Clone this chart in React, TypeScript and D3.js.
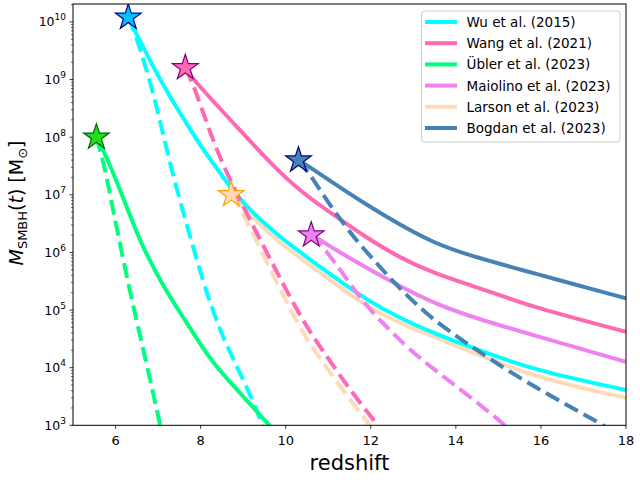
import React from "react";
import * as d3 from "d3";

// curves: [redshift, M_SMBH in solar masses]
const wuSolid = [[6.3, 1.2e10], [6.88, 1.66e9], [7.28, 5e8], [7.68, 1.7e8], [8.06, 6e7], [8.46, 2.4e7], [8.86, 9.2e6], [9.56, 2.8e6], [10.34, 1e6], [11.12, 3.8e5], [11.9, 1.5e5], [12.69, 7.2e4], [13.47, 4e4], [14.41, 2.2e4], [15.81, 9.1e3], [18, 4.1e3]];
const wuDashed = [[6.3, 1.2e10], [6.46, 6.5e9], [6.85, 7.6e8], [7.08, 1.5e8], [7.28, 3.5e7], [7.55, 6.3e6], [8.22, 1.15e5], [8.69, 1.8e4], [9.16, 3.6e3], [9.45, 1e3], [9.5, 8e2]];
const wangSolid = [[7.64, 1.6e9], [7.82, 1e9], [8.86, 1.5e8], [9.63, 3.6e7], [10.34, 1.15e7], [11.12, 4.5e6], [11.9, 1.8e6], [12.69, 8e5], [13.47, 4.4e5], [14.57, 2.4e5], [15.81, 1.12e5], [18, 4.2e4]];
const wangDashed = [[7.64, 1.6e9], [7.82, 8.7e8], [8.22, 1.2e8], [8.62, 2.2e7], [9.56, 9.8e5], [10.34, 7.6e4], [10.81, 2.3e4], [11.51, 4.1e3], [12.17, 1e3], [12.25, 8e2]];
const ublerSolid = [[5.55, 1e8], [5.75, 5.5e7], [6.39, 3.6e6], [6.57, 1.6e6], [7.12, 2.5e5], [7.68, 6e4], [8.22, 1.36e4], [8.86, 4.1e3], [9.62, 1e3], [9.7, 8.5e2]];
const ublerDashed = [[5.55, 1e8], [5.75, 3e7], [5.94, 5.5e6], [6.34, 2e5], [6.74, 1.1e4], [7.05, 1e3], [7.08, 8e2]];
const maiolinoSolid = [[10.6, 2e6], [10.81, 1.66e6], [11.12, 1.17e6], [11.9, 5.4e5], [12.69, 2.6e5], [13.47, 1.32e5], [14.57, 6.8e4], [15.81, 3.7e4], [18, 1.26e4]];
const maiolinoDashed = [[10.6, 2e6], [10.88, 1.26e6], [11.28, 5e5], [11.67, 1.95e5], [12.06, 8.7e4], [12.45, 4.5e4], [12.84, 2.3e4], [13.47, 9.5e3], [14.25, 3.5e3], [15.12, 1.07e3], [15.2, 9e2]];
const larsonSolid = [[8.72, 1e7], [9.56, 2.2e6], [10.34, 8e5], [11.12, 3e5], [11.9, 1.15e5], [12.69, 5.9e4], [13.47, 3.5e4], [14.26, 2e4], [15.81, 6.9e3], [18, 3e3]];
const larsonDashed = [[8.72, 1e7], [8.93, 6.2e6], [9.56, 6.6e5], [10.34, 4.6e4], [10.81, 1.45e4], [11.28, 4.6e3], [11.98, 1e3], [12.05, 8e2]];
const bogdanSolid = [[10.3, 4e7], [10.49, 3.3e7], [11.12, 1.6e7], [11.9, 6.7e6], [12.69, 3e6], [13.47, 1.48e6], [14.26, 9.1e5], [15.81, 4.4e5], [18, 1.6e5]];
const bogdanDashed = [[10.3, 4e7], [10.57, 2.3e7], [10.96, 8.1e6], [11.35, 3.2e6], [11.75, 1.35e6], [12.14, 6.5e5], [12.53, 3.1e5], [12.92, 1.6e5], [13.31, 8.7e4], [13.71, 5.1e4], [14.1, 3.2e4], [14.49, 2e4], [15.81, 4.7e3], [17.39, 1.1e3], [17.6, 8.5e2]];

const labels = ["Wu et al. (2015)", "Wang et al. (2021)", "Übler et al. (2023)", "Maiolino et al. (2023)", "Larson et al. (2023)", "Bogdan et al. (2023)"];
const starZ = [6.3, 7.64, 5.55, 10.6, 8.72, 10.3];
const starMass = [1.2e10, 1.6e9, 1e8, 2e6, 1e7, 4e7];
const solids = [wuSolid, wangSolid, ublerSolid, maiolinoSolid, larsonSolid, bogdanSolid];
const dashes = [wuDashed, wangDashed, ublerDashed, maiolinoDashed, larsonDashed, bogdanDashed];

const lineColors = ["#00ffff", "#ff69b4", "#00ff7f", "#ee82ee", "#ffdab9", "#4682b4"];
const starFill = ["#00bfff", "#ff69b4", "#1ee01e", "#ee82ee", "#ffdab9", "#4682b4"];
const starEdge = ["#00008b", "#800080", "#006400", "#800080", "#ffa500", "#000080"];

const xTicks = [6, 8, 10, 12, 14, 16, 18];
const yExps = [3, 4, 5, 6, 7, 8, 9, 10];

const FONT = "DejaVu Sans";

export default function App() {
  const left = 73, right = 626, top = 4, bottom = 425.3;
  const x = d3.scaleLinear().domain([5, 18]).range([left, right]);
  const y = d3.scaleLog().domain([1e3, 2.05e10]).range([bottom, top]);

  // basis smooths out the reading noise in the hand-picked points
  const line = d3
    .line<number[]>()
    .x((d) => x(d[0]))
    .y((d) => y(d[1]))
    .curve(d3.curveBasis);

  const star = d3.symbol().type(d3.symbolStar).size(205)();

  // minor ticks on the log axis
  const minor: number[] = [];
  for (let e = 3; e <= 10; e++)
    for (let k = 2; k <= 9; k++) {
      const v = k * Math.pow(10, e);
      if (v <= 2.05e10) minor.push(v);
    }

  // Larson drawn first so the others sit over it
  const drawOrder = [4, 0, 1, 2, 3, 5];

  return (
    <svg
      width={640}
      height={480}
      style={{ position: "absolute", left: 0, top: 0, background: "#fff" }}
      fontFamily={FONT}
    >
      <defs>
        <clipPath id="plot">
          <rect x={left} y={top} width={right - left} height={bottom - top} />
        </clipPath>
      </defs>

      <g clipPath="url(#plot)">
        {drawOrder.map((i) => (
          <g key={i}>
            <path d={line(solids[i]) ?? ""} fill="none" stroke={lineColors[i]} strokeWidth={4} />
            <path
              d={line(dashes[i]) ?? ""}
              fill="none"
              stroke={lineColors[i]}
              strokeWidth={4}
              strokeDasharray="15 6.5"
            />
          </g>
        ))}
        {starZ.map((z, i) => (
          <path
            key={i}
            d={star ?? ""}
            transform={`translate(${x(z)},${y(starMass[i])})`}
            fill={starFill[i]}
            stroke={starEdge[i]}
            strokeWidth={1.2}
          />
        ))}
      </g>

      {/* frame */}
      <rect x={left} y={top} width={right - left} height={bottom - top} fill="none" stroke="#000" strokeWidth={1} />

      {/* x axis */}
      {xTicks.map((t) => (
        <g key={t}>
          <line x1={x(t)} x2={x(t)} y1={bottom} y2={bottom + 3.5} stroke="#000" strokeWidth={0.8} />
          <text x={x(t)} y={bottom + 20} textAnchor="middle" fontSize={13}>
            {t}
          </text>
        </g>
      ))}
      <text x={(left + right) / 2} y={470} textAnchor="middle" fontSize={21}>
        redshift
      </text>

      {/* y axis */}
      {minor.map((v) => (
        <line key={v} x1={left - 2} x2={left} y1={y(v)} y2={y(v)} stroke="#000" strokeWidth={0.6} />
      ))}
      {yExps.map((e) => {
        const yy = y(Math.pow(10, e));
        return (
          <g key={e}>
            <line x1={left - 3.5} x2={left} y1={yy} y2={yy} stroke="#000" strokeWidth={0.8} />
            <text x={left - 7} y={yy + 4.5} textAnchor="end" fontSize={12.5}>
              10
              <tspan fontSize={9} dy={-6}>
                {e}
              </tspan>
            </text>
          </g>
        );
      })}
      <text transform="translate(23,203) rotate(-90)" textAnchor="middle" fontSize={19}>
        <tspan fontStyle="italic">M</tspan>
        <tspan fontSize={13} dy={4}>SMBH</tspan>
        <tspan dy={-4}>(</tspan>
        <tspan fontStyle="italic">t</tspan>
        <tspan>) [M</tspan>
        <tspan fontSize={13} dy={4}>⊙</tspan>
        <tspan dy={-4}>]</tspan>
      </text>

      {/* legend */}
      <rect x={421.5} y={11} width={198.5} height={131} rx={3} fill="#fff" fillOpacity={0.8} stroke="#cccccc" strokeWidth={1} />
      {labels.map((lab, i) => {
        const ly = 22 + i * 21.2;
        return (
          <g key={lab}>
            <line x1={425} x2={457} y1={ly} y2={ly} stroke={lineColors[i]} strokeWidth={4} />
            <text x={466.5} y={ly + 5} fontSize={13.5}>
              {lab}
            </text>
          </g>
        );
      })}
    </svg>
  );
}
